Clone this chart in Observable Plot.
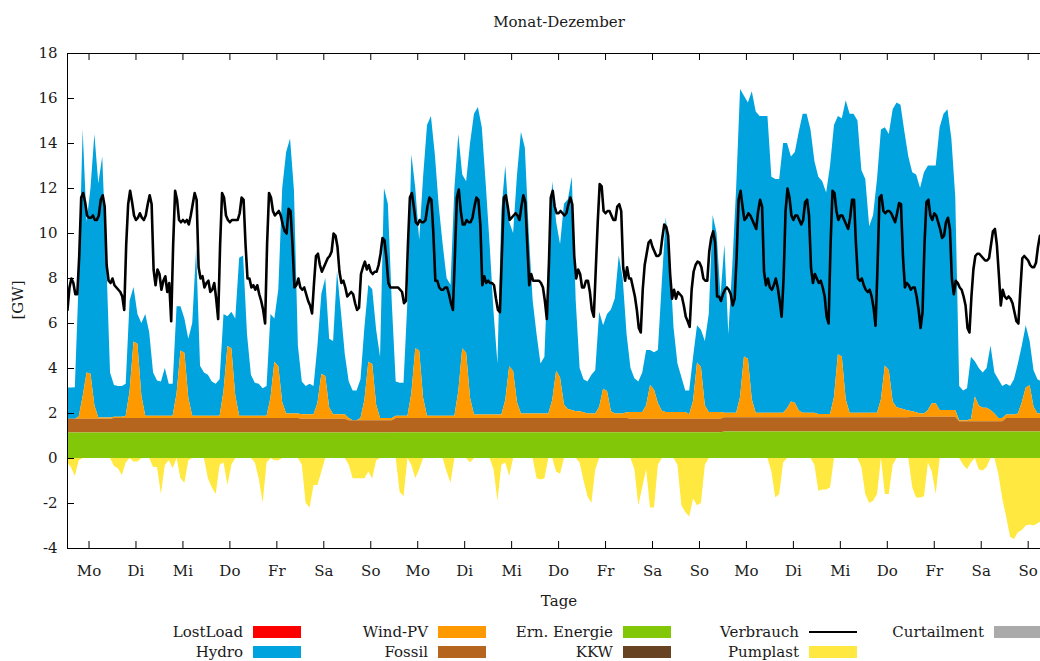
<!DOCTYPE html>
<html><head><meta charset="utf-8">
<script src="https://cdn.jsdelivr.net/npm/d3@7"></script>
<script src="https://cdn.jsdelivr.net/npm/@observablehq/plot@0.6"></script>
<style>
body{margin:0;background:#fff;font-family:"DejaVu Serif",serif;}
#wrap{position:relative;width:1040px;height:661px;overflow:hidden;background:#fff}
.t{position:absolute;font-size:15px;color:#1a1a1a;white-space:nowrap;line-height:1}
.sw{position:absolute}
</style></head><body><div id="wrap"></div>
<script>
// ---- categories / ticks ----
const dayLabels = ["Mo","Di","Mi","Do","Fr","Sa","So","Mo","Di","Mi","Do","Fr","Sa","So","Mo","Di","Mi","Do","Fr","Sa","So"];
const dayTickHours = [12,36,60,84,108,132,156,180,204,228,252,276,300,324,348,372,396,420,444,468,492];
const yTicks = [-4,-2,0,2,4,6,8,10,12,14,16,18];

// ---- Verbrauch [GW], hourly, one row per day (hour 1..24 of each day) ----
const verbrauch = [
 [6.6,7.6,8.0,7.8,7.3,7.3,9.0,11.6,11.8,11.4,10.8,10.7,10.7,10.8,10.6,10.6,10.8,11.5,11.7,11.2,8.6,7.9,7.8,8.0],
 [7.7,7.6,7.5,7.4,7.2,6.6,9.5,11.3,11.9,11.4,10.8,10.6,10.7,10.9,10.7,10.6,10.8,11.3,11.7,11.3,8.4,7.7,8.4,8.2],
 [7.5,7.9,8.1,7.4,7.8,6.1,9.5,11.9,11.5,10.6,10.5,10.6,10.5,10.6,10.4,10.8,11.3,11.8,11.5,8.5,8.0,8.1,7.6,7.8],
 [7.9,7.4,7.5,7.8,7.1,6.2,9.5,11.8,11.6,10.8,10.6,10.5,10.6,10.6,10.6,10.6,10.9,11.6,11.5,9.5,8.0,8.0,7.6,7.7],
 [7.5,7.7,7.3,7.0,6.6,6.0,9.5,11.8,11.6,11.0,10.8,10.9,11.0,10.8,10.4,10.1,10.0,11.1,11.0,9.5,7.6,7.7,8.0,7.6],
 [7.5,7.6,7.3,7.0,6.8,6.45,7.8,9.0,9.1,8.6,8.3,8.5,8.7,8.9,9.0,9.2,10.0,9.9,9.4,8.3,7.8,7.9,7.6,7.2],
 [7.3,7.4,7.3,6.9,6.6,6.7,8.2,8.5,8.75,8.4,8.6,8.3,8.2,8.3,8.3,8.6,9.1,9.8,9.7,8.9,7.8,7.6,7.6,7.6],
 [7.6,7.6,7.5,7.4,6.9,7.0,9.5,11.6,11.8,11.2,10.5,10.4,10.6,10.5,10.5,10.6,11.2,11.6,11.5,10.0,7.9,7.9,7.6,7.5],
 [7.5,7.6,7.6,7.3,6.9,6.6,9.0,11.6,11.95,11.0,10.4,10.4,10.6,10.5,10.5,10.7,11.2,11.6,11.5,10.4,7.7,8.1,7.8,7.9],
 [7.8,7.8,7.7,7.1,6.6,6.5,9.0,11.6,11.7,11.2,10.6,10.7,10.8,10.9,10.8,10.6,11.2,11.7,11.4,9.5,7.7,8.2,7.9,7.9],
 [7.9,7.9,7.8,7.6,7.0,6.2,8.5,11.6,11.9,11.2,10.9,10.9,11.0,10.9,10.8,10.9,11.3,11.6,11.3,9.0,8.0,8.4,8.2,7.6],
 [7.6,7.9,7.9,7.4,6.6,6.3,8.4,10.5,12.2,12.1,11.0,10.9,11.0,11.0,10.8,10.6,10.6,11.2,11.3,11.0,8.5,7.9,8.5,8.0],
 [8.0,7.6,7.2,6.6,5.8,5.6,7.5,8.6,9.1,9.6,9.7,9.4,9.2,9.0,9.0,9.1,9.8,10.4,10.3,9.9,8.2,7.1,7.5,7.1],
 [7.4,7.3,7.2,6.8,6.3,6.1,5.85,7.5,8.3,8.6,8.75,8.7,8.5,8.0,7.9,7.9,9.2,9.8,10.1,9.6,7.2,7.2,7.0,7.3],
 [7.5,7.6,7.5,7.3,6.8,7.1,9.0,11.5,11.9,11.2,10.6,10.7,10.9,10.8,10.6,10.4,10.2,11.0,11.5,11.2,8.3,7.7,8.0,7.6],
 [7.5,7.7,8.0,7.6,7.0,6.3,8.0,11.0,12.0,11.6,10.8,10.6,10.8,10.8,10.6,10.4,10.6,11.4,11.5,10.8,8.5,7.8,8.2,8.0],
 [7.8,7.9,7.6,7.2,6.3,6.0,9.5,11.9,11.8,11.0,10.6,10.8,10.8,10.6,10.4,10.2,10.7,11.5,11.5,9.5,8.0,7.9,8.0,7.7],
 [7.5,7.4,7.5,7.2,6.7,5.9,8.5,11.6,11.7,11.0,10.9,11.0,11.0,10.9,10.7,10.5,10.9,11.35,11.3,9.0,7.6,7.8,7.7,7.5],
 [7.6,7.6,7.2,6.6,5.8,6.5,9.5,11.4,11.5,10.8,10.6,10.9,10.8,10.5,10.2,9.8,9.9,10.5,10.7,10.2,8.0,7.3,7.9,7.8],
 [7.6,7.5,7.2,6.8,5.8,5.6,7.2,8.4,9.0,9.1,9.1,9.0,8.9,8.8,8.8,8.9,9.5,10.1,10.2,9.5,8.2,6.8,7.5,7.2],
 [7.1,7.2,7.1,6.9,6.5,6.1,6.0,7.5,8.9,9.0,8.9,8.8,8.6,8.5,8.5,8.7,9.4,9.9]
];

// ---- generation, every 2 h (hours 1,3,...,23 of each day) ----
// upper edge of the stacked generation (top of Hydro) [GW]
const hydroTop = [
 [3.13,3.13,3.15,8.0,14.6,10.5,12.0,14.4,12.2,13.4,9.0,3.8],
 [3.25,3.2,3.2,3.3,7.0,7.6,6.4,6.0,6.4,5.6,3.8,3.45],
 [3.4,4.0,3.3,3.3,6.75,6.75,6.2,5.3,6.0,9.3,4.1,3.8],
 [3.7,3.4,3.3,3.5,6.4,6.3,6.5,6.2,8.9,9.0,5.5,3.7],
 [3.35,3.3,3.1,3.2,6.4,6.2,7.5,12.0,13.6,14.2,11.9,5.0],
 [3.4,3.2,3.3,3.2,5.0,7.3,8.0,5.3,5.2,8.3,6.5,4.6],
 [3.4,3.0,3.0,3.5,5.8,7.7,7.5,5.7,4.5,12.0,11.3,6.9],
 [3.4,3.35,3.35,7.0,13.5,12.0,9.7,12.5,14.8,15.2,13.5,11.2],
 [9.5,8.0,7.7,12.0,14.4,12.6,12.3,14.0,15.3,15.6,14.7,12.2],
 [9.5,6.5,4.2,11.0,13.0,10.5,10.0,12.6,14.5,13.8,10.0,7.0],
 [5.5,4.2,4.5,9.0,12.3,10.5,9.5,11.3,11.5,12.5,7.0,4.0],
 [3.5,3.4,3.7,3.9,6.5,5.9,6.4,6.6,7.1,9.0,8.0,5.5],
 [4.0,3.55,3.4,3.8,4.8,4.8,4.7,4.8,7.8,10.7,9.0,5.8],
 [4.2,3.6,3.0,3.0,4.5,5.9,5.7,5.2,6.4,10.8,10.0,7.2],
 [9.5,5.5,8.5,12.0,16.4,16.1,15.8,16.3,15.4,15.2,15.2,15.2],
 [12.5,12.4,12.4,14.0,14.0,13.4,13.6,14.5,15.3,15.3,14.6,13.2],
 [12.5,12.3,11.8,13.0,14.8,15.2,15.1,15.9,15.3,15.3,15.0,12.8],
 [12.4,10.3,10.8,12.4,14.6,14.7,14.4,15.5,15.8,15.7,14.5,13.4],
 [12.7,12.6,12.0,12.7,13.0,13.0,13.0,14.7,15.3,15.5,14.2,11.6],
 [3.2,3.0,3.1,4.5,4.3,4.0,3.8,4.0,5.0,3.8,3.5,3.2],
 [3.3,3.2,3.5,4.2,5.0,5.9,5.2,3.9,3.5,3.4]
];
// Wind-PV [GW]
const windPV = [
 [0,0,0,0.1,1.0,2.05,2.0,0.6,0.05,0.05,0.05,0.05],
 [0.05,0.05,0.05,0.1,1.2,3.4,3.3,1.0,0.1,0.1,0.1,0.1],
 [0.1,0.1,0.1,0.1,1.1,3.0,2.9,0.9,0.1,0.1,0.1,0.1],
 [0.1,0.1,0.1,0.1,1.2,3.2,3.1,1.0,0.1,0.1,0.1,0.1],
 [0.1,0.1,0.1,0.1,0.9,2.5,2.3,0.7,0.2,0.2,0.2,0.2],
 [0.2,0.2,0.2,0.2,0.7,2.0,1.9,0.5,0.2,0.2,0.2,0.2],
 [0.1,0.0,0.0,0.1,0.9,2.6,2.5,0.7,0.1,0.1,0.1,0.1],
 [0.1,0.1,0.1,0.1,1.1,3.1,3.0,0.9,0.1,0.1,0.1,0.1],
 [0.1,0.1,0.1,0.1,1.2,3.1,2.9,0.9,0.15,0.15,0.15,0.15],
 [0.15,0.15,0.15,0.15,0.8,2.3,2.1,0.7,0.2,0.2,0.2,0.2],
 [0.2,0.2,0.2,0.2,0.8,2.1,1.8,0.6,0.4,0.35,0.3,0.3],
 [0.25,0.2,0.2,0.2,0.5,1.3,1.2,0.3,0.2,0.2,0.2,0.25],
 [0.3,0.3,0.3,0.3,0.6,1.5,1.3,0.7,0.35,0.3,0.3,0.3],
 [0.3,0.3,0.3,0.2,0.8,2.5,2.3,0.6,0.3,0.3,0.3,0.3],
 [0.2,0.2,0.2,0.2,0.9,2.7,2.6,0.8,0.2,0.2,0.2,0.2],
 [0.2,0.2,0.2,0.2,0.4,0.7,0.65,0.3,0.2,0.2,0.2,0.2],
 [0.15,0.15,0.15,0.15,0.9,2.8,2.7,0.8,0.2,0.2,0.2,0.2],
 [0.2,0.2,0.2,0.2,0.8,2.3,2.1,0.7,0.45,0.4,0.35,0.3],
 [0.25,0.2,0.15,0.15,0.3,0.6,0.6,0.3,0.3,0.3,0.3,0.3],
 [0.05,0.05,0.05,0.1,1.1,0.7,0.6,0.6,0.5,0.35,0.15,0.15],
 [0.15,0.15,0.15,0.2,0.7,1.35,1.45,0.5,0.2,0.2]
];
// Pumplast [GW] (negative)
const pumplast = [
 [-0.2,-0.4,-0.8,-0.1,0,0,0,0,0,0,0,0],
 [-0.35,-0.45,-0.75,-0.2,0,-0.15,-0.15,0,0,0,-0.4,-0.4],
 [-1.6,-0.3,-0.1,-0.45,0,-0.9,-1.1,-0.1,0,0,0,0],
 [-0.9,-1.3,-1.6,-0.3,-0.2,-1.2,-0.3,0,0,0,0,0],
 [-0.2,-0.9,-2.0,-0.2,0,-0.1,-0.1,0,0,0,0,0],
 [-0.3,-2.0,-2.2,-1.2,-1.2,-0.6,0,0,0,0,0,0],
 [-0.3,-0.9,-0.9,-0.9,-0.9,-0.6,-0.9,-0.1,0,0,0,0],
 [0,-1.5,-1.7,0,-0.3,-0.9,-0.5,0,0,0,0,0],
 [0,-0.6,-1.1,0,0,0,0,-0.2,0,0,0,0],
 [0,-0.5,-1.9,-0.3,-0.2,-0.8,0,0,0,0,0,0],
 [-0.9,-0.95,-0.9,0,0,-0.6,-0.7,0,0,0,0,-0.2],
 [-1.0,-1.7,-2.0,-0.5,0,0,0,0,0,0,0,0],
 [0,-0.5,-2.1,-1.3,-0.5,-2.2,-2.2,-0.3,0,0,0,0],
 [-0.3,-2.1,-2.4,-2.6,-1.8,-2.1,-2.0,-0.3,0,0,0,0],
 [0,0,0,0,0,0,0,0,0,0,0,0],
 [-0.6,-1.75,-1.6,-0.2,0,0,0,0,0,0,0,-0.3],
 [-1.45,-1.4,-1.4,-1.3,0,0,0,0,0,0,0,-0.4],
 [-1.6,-2.0,-1.9,-1.6,0,-1.6,-1.6,-0.3,0,0,0,0],
 [-1.3,-1.75,-1.75,-1.7,-0.2,-0.6,-1.6,0,0,0,0,0],
 [0,-0.3,-0.5,-0.2,0,-0.5,-0.55,-0.4,0,0,-0.7,-1.8],
 [-2.6,-3.5,-3.6,-3.3,-3.2,-3.0,-2.95,-3.0,-2.9,-2.8]
];
// daily levels [GW]
const ernEnergie = [1.13,1.13,1.13,1.13,1.13,1.13,1.13,1.15,1.15,1.15,1.15,1.15,1.15,1.15,1.18,1.18,1.18,1.18,1.18,1.18,1.18];
const fossil     = [0.62,0.65,0.65,0.65,0.65,0.62,0.55,0.63,0.63,0.63,0.63,0.63,0.6,0.6,0.63,0.63,0.63,0.63,0.65,0.45,0.6];

// ---- legend ----
const legendItems = [
  {label:"LostLoad", color:"#ff0000"}, {label:"Hydro", color:"#00a3de"},
  {label:"Wind-PV", color:"#ff9900"}, {label:"Fossil", color:"#b5651d"},
  {label:"Ern. Energie", color:"#82c808"}, {label:"KKW", color:"#674321"},
  {label:"Verbrauch", color:"#000000", line:true}, {label:"Pumplast", color:"#ffe83f"},
  {label:"Curtailment", color:"#aaaaaa"}
];

// ---- build tables ----
const lineRows = verbrauch.flatMap((day, d) => day.map((v, j) => ({h: 24*d + 1 + j, v})));
const genRows = hydroTop.flatMap((day, d) => day.map((top, j) => {
  const ern = ernEnergie[d], fos = fossil[d], w = windPV[d][j];
  const wTop = ern + fos + w;
  return {h: 24*d + 1 + 2*j, ern, fosTop: ern + fos, wTop, top: Math.max(top, wTop), pump: pumplast[d][j]};
}));

const frameW = 1040 - 67, frameH = 548 - 53;
const chart = Plot.plot({
  width: 1040, height: 661,
  marginLeft: 67, marginRight: 0, marginTop: 53, marginBottom: 113,
  style: {fontFamily: "DejaVu Serif", fontSize: "15px", color: "#1a1a1a", background: "transparent"},
  x: {domain: [1, 498.3], label: null},
  y: {domain: [-4, 18], label: null},
  marks: [
    Plot.areaY(genRows, {x: "h", y1: "wTop", y2: "top", fill: "#00a3de", clip: true}),
    Plot.areaY(genRows, {x: "h", y1: "fosTop", y2: "wTop", fill: "#ff9900", clip: true}),
    Plot.areaY(genRows, {x: "h", y1: "ern", y2: "fosTop", fill: "#b5651d", clip: true}),
    Plot.areaY(genRows, {x: "h", y1: 0, y2: "ern", fill: "#82c808", clip: true}),
    Plot.areaY(genRows, {x: "h", y1: 0, y2: "pump", fill: "#ffe83f", clip: true}),
    Plot.line(lineRows, {x: "h", y: "v", stroke: "#000", strokeWidth: 2.6, clip: true}),
    // inward ticks (gnuplot style)
    Plot.tickY(yTicks, {y: d => d, stroke: "#000", insetRight: frameW - 7}),
    Plot.tickX(dayTickHours, {x: d => d, stroke: "#000", insetTop: frameH - 7}),
    Plot.tickX(dayTickHours, {x: d => d, stroke: "#000", insetBottom: frameH - 7}),
    Plot.axisY({ticks: yTicks, tickSize: 0, tickPadding: 10, label: null, tickFormat: d => String(d)}),
    Plot.axisX({ticks: dayTickHours, tickSize: 0, tickPadding: 17, label: null, tickFormat: d => dayLabels[Math.round((d - 12) / 24)]}),
    Plot.ruleX([1], {stroke: "#000"}),
    Plot.ruleY([18, -4], {stroke: "#000"})
  ]
});

const wrap = document.getElementById("wrap");
chart.style.position = "absolute"; chart.style.left = "0px"; chart.style.top = "0px";
wrap.appendChild(chart);

function addText(txt, x, y, opts = {}) {
  const el = document.createElement("div");
  el.className = "t"; el.textContent = txt;
  el.style.left = x + "px"; el.style.top = y + "px";
  el.style.transform = opts.transform || "translate(-50%,-50%)";
  wrap.appendChild(el);
  return el;
}
addText("Monat-Dezember", 559, 22);
addText("Tage", 559, 601);
addText("[GW]", 18, 300, {transform: "translate(-50%,-50%) rotate(-90deg)"});

// legend: 5 columns x 2 rows
const colEnds = [243, 428, 613, 799, 984];
const rowY = [632, 652];
legendItems.forEach((it, i) => {
  const c = Math.floor(i / 2), r = i % 2;
  const xe = colEnds[c], y = rowY[r];
  addText(it.label, xe, y, {transform: "translate(-100%,-50%)"});
  const sw = document.createElement("div");
  sw.className = "sw";
  sw.style.left = (xe + 10) + "px";
  sw.style.width = "48px";
  if (it.line) { sw.style.top = (y - 1.3) + "px"; sw.style.height = "2.6px"; }
  else { sw.style.top = (y - 6) + "px"; sw.style.height = "12px"; }
  sw.style.background = it.color;
  wrap.appendChild(sw);
});
</script>
</body></html>
